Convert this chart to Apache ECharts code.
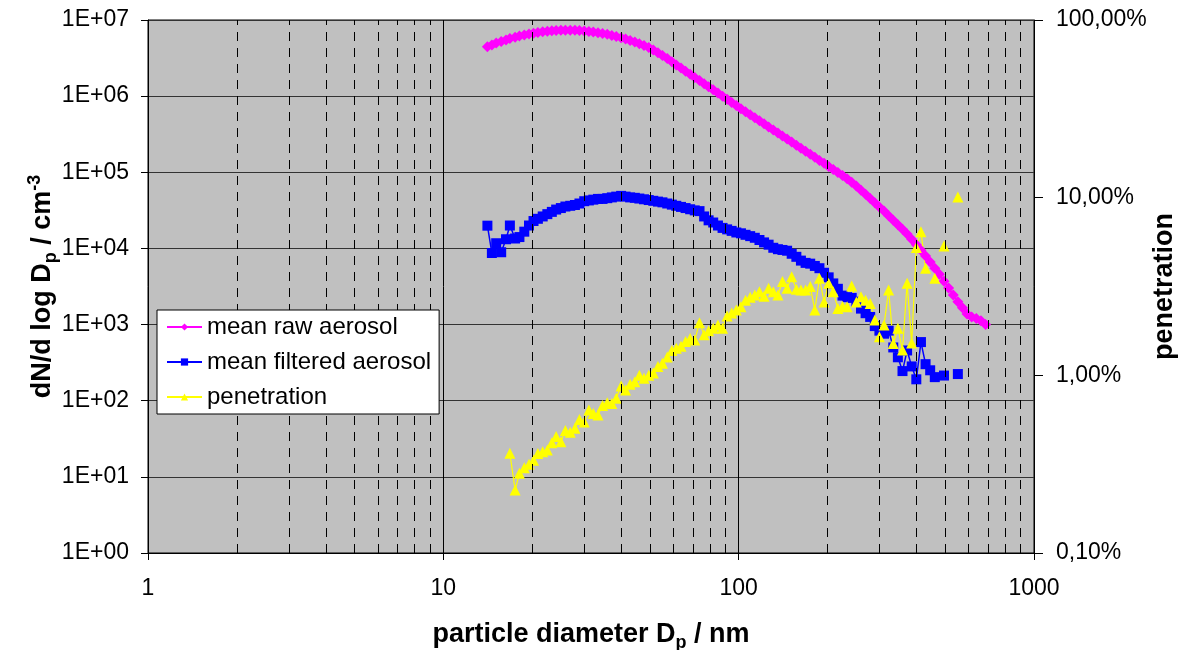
<!DOCTYPE html>
<html>
<head>
<meta charset="utf-8">
<script src="https://cdn.jsdelivr.net/npm/echarts@6/dist/echarts.min.js"></script>
<style>
  html, body { margin: 0; padding: 0; background: #fff; }
  #chart { width: 1190px; height: 650px; }
</style>
</head>
<body>
<div id="chart"></div>
<script>
// SMPS channel mid diameters / nm
var diameters = [
  14.1, 14.6, 15.1, 15.7, 16.3, 16.8, 17.5, 18.1, 18.8, 19.5,
  20.2, 20.9, 21.7, 22.5, 23.3, 24.1, 25.0, 25.9, 26.9, 27.9,
  28.9, 30.0, 31.1, 32.2, 33.4, 34.6, 35.9, 37.2, 38.5, 40.0,
  41.4, 42.9, 44.5, 46.1, 47.8, 49.6, 51.4, 53.3, 55.2, 57.3,
  59.4, 61.5, 63.8, 66.1, 68.5, 71.0, 73.7, 76.4, 79.1, 82.0,
  85.1, 88.2, 91.4, 94.7, 98.2, 101.8, 105.5, 109.4, 113.4, 117.6,
  121.9, 126.3, 131.0, 135.8, 140.7, 145.9, 151.2, 156.8, 162.5, 168.5,
  174.7, 181.1, 187.7, 194.6, 201.7, 209.1, 216.7, 224.7, 232.9, 241.4,
  250.3, 259.5, 269.0, 278.8, 289.0, 299.6, 310.6, 322.0, 333.8, 346.0,
  358.7, 371.8, 385.4, 399.5, 414.2, 429.4, 445.1, 461.4, 478.3, 495.8,
  514.0, 532.8, 552.3, 572.5, 593.5, 615.3, 637.8, 661.2, 685.4
];

// dN/dlogDp / cm^-3
var rawAerosol = [
  4.46e6, 4.71e6, 4.97e6, 5.22e6, 5.47e6, 5.70e6, 5.93e6, 6.15e6, 6.35e6, 6.55e6,
  6.71e6, 6.87e6, 7.00e6, 7.11e6, 7.21e6, 7.28e6, 7.33e6, 7.35e6, 7.35e6, 7.31e6,
  7.26e6, 7.18e6, 7.08e6, 6.97e6, 6.82e6, 6.67e6, 6.49e6, 6.28e6, 6.08e6, 5.86e6,
  5.62e6, 5.38e6, 5.14e6, 4.89e6, 4.62e6, 4.35e6, 4.03e6, 3.72e6, 3.41e6, 3.12e6,
  2.82e6, 2.57e6, 2.34e6, 2.13e6, 1.94e6, 1.76e6, 1.60e6, 1.46e6, 1.33e6, 1.21e6,
  1.10e6, 1.00e6, 9.10e5, 8.28e5, 7.53e5, 6.85e5, 6.25e5, 5.70e5, 5.20e5, 4.74e5,
  4.33e5, 3.94e5, 3.60e5, 3.28e5, 2.99e5, 2.73e5, 2.49e5, 2.27e5, 2.07e5, 1.89e5,
  1.72e5, 1.57e5, 1.43e5, 1.31e5, 1.19e5, 1.09e5, 9.91e4, 9.04e4, 8.24e4, 7.41e4,
  6.61e4, 5.82e4, 5.13e4, 4.52e4, 3.98e4, 3.51e4, 3.09e4, 2.69e4, 2.34e4, 2.04e4,
  1.78e4, 1.55e4, 1.32e4, 1.12e4, 9.44e3, 7.94e3, 6.61e3, 5.50e3, 4.57e3, 3.72e3,
  3.02e3, 2.45e3, 2.00e3, 1.66e3, 1.38e3, 1.26e3, 1.20e3, 1.12e3, 1.00e3
];

var filteredAerosol = [
  1.99e4, 8.71e3, 1.17e4, 8.91e3, 1.32e4, 2.00e4, 1.35e4, 1.41e4, 1.66e4, 2.00e4,
  2.29e4, 2.45e4, 2.63e4, 2.82e4, 3.02e4, 3.24e4, 3.39e4, 3.55e4, 3.63e4, 3.72e4,
  3.89e4, 4.17e4, 4.27e4, 4.37e4, 4.47e4, 4.47e4, 4.57e4, 4.68e4, 4.79e4, 4.90e4,
  4.79e4, 4.68e4, 4.62e4, 4.52e4, 4.42e4, 4.32e4, 4.22e4, 4.12e4, 4.03e4, 3.89e4,
  3.76e4, 3.63e4, 3.51e4, 3.39e4, 3.27e4, 3.16e4, 3.09e4, 2.63e4, 2.34e4, 2.19e4,
  2.00e4, 1.86e4, 1.78e4, 1.70e4, 1.62e4, 1.58e4, 1.51e4, 1.45e4, 1.38e4, 1.29e4,
  1.20e4, 1.12e4, 1.02e4, 9.77e3, 9.55e3, 9.33e3, 8.51e3, 7.76e3, 6.92e3, 6.46e3,
  6.31e3, 5.89e3, 5.50e3, 4.79e3, 4.17e3, 3.47e3, 2.95e3, 2.40e3, 2.29e3, 2.24e3,
  2.00e3, 1.62e3, 1.41e3, 1.26e3, 955, 832, 759, 832, 501, 372,
  245, 457, 282, 191, 589, 302, 251, 204, null, 214,
  null, null, 224, null, null, null, null, null, null
];

// penetration in %
var penetration = [
  null, null, null, null, null, 0.364, 0.226, 0.281, 0.302, 0.316,
  0.333, 0.363, 0.372, 0.380, 0.417, 0.452, 0.423, 0.490, 0.479, 0.504,
  0.565, 0.546, 0.638, 0.610, 0.598, 0.676, 0.701, 0.695, 0.743, 0.871,
  0.826, 0.891, 0.920, 1.00, 0.962, 1.00, 1.03, 1.12, 1.17, 1.27,
  1.38, 1.42, 1.46, 1.55, 1.61, 1.58, 1.98, 1.69, 1.78, 1.84,
  1.92, 1.84, 2.16, 2.24, 2.33, 2.43, 2.65, 2.75, 2.83, 2.95,
  2.79, 3.09, 2.95, 2.83, 3.37, 3.09, 3.59, 3.05, 3.02, 3.02,
  3.16, 2.33, 3.52, 2.59, 3.30, 2.95, 2.38, 2.45, 2.43, 3.18,
  2.59, 2.77, 2.65, 2.54, 2.05, 1.65, 1.92, 3.02, 1.51, 1.84,
  1.39, 3.30, 1.52, 5.25, 6.43, 4.00, null, 3.52, null, 5.35,
  null, null, 10.1, null, null, null, null, null, null
];

// dashed minor gridlines of the log x axis
var xMinorLines = [2, 3, 4, 5, 6, 7, 8, 9, 20, 30, 40, 50, 60, 70, 80, 90, 200, 300, 400, 500, 600, 700, 800, 900];

var FONT = '"Liberation Sans", Arial, sans-serif';

function pairs(ys) {
  return diameters.map(function (d, i) {
    return [d, ys[i] == null ? '-' : ys[i]];
  });
}

var myChart = echarts.init(document.getElementById('chart'));

var nameBold = { fontSize: 27, fontWeight: 'bold', fontFamily: FONT, color: '#000', lineHeight: 34 };
var nameSmall = { fontSize: 18, fontWeight: 'bold', fontFamily: FONT, color: '#000', lineHeight: 34 };

var option = {
  backgroundColor: '#fff',
  animation: false,
  textStyle: { fontFamily: FONT, color: '#000' },
  grid: {
    left: 148, right: 156, top: 20, bottom: 97,
    outerBoundsMode: 'none',
    containLabel: false,
    show: true, backgroundColor: '#C0C0C0', borderColor: '#000', borderWidth: 1
  },
  legend: {
    orient: 'vertical',
    left: 157, top: 310,
    z: 10,
    padding: [5, 8, 5, 9],
    itemGap: 11,
    itemWidth: 35, itemHeight: 9,
    backgroundColor: '#fff', borderColor: '#000', borderWidth: 1, borderRadius: 0,
    textStyle: { fontSize: 24, color: '#000', fontFamily: FONT },
    data: ['mean raw aerosol', 'mean filtered aerosol', 'penetration']
  },
  xAxis: {
    type: 'log', logBase: 10, min: 1, max: 1000, splitNumber: 3,
    name: '{b|particle diameter D}{s|p}{b| / nm}',
    nameLocation: 'middle', nameGap: 65, nameMoveOverlap: false,
    nameTextStyle: {
      rich: {
        b: nameBold,
        s: Object.assign({ verticalAlign: 'bottom' }, nameSmall)
      }
    },
    axisLine: { show: true, lineStyle: { color: '#000', width: 1 } },
    axisTick: { show: true, length: 7, lineStyle: { color: '#000' } },
    axisLabel: {
      fontSize: 23, color: '#000', margin: 24, fontFamily: FONT,
      formatter: function (v) { return String(v); }
    },
    splitLine: { show: true, lineStyle: { color: '#000', width: 1 } }
  },
  yAxis: [
    {
      type: 'log', logBase: 10, min: 1, max: 1e7, splitNumber: 7,
      name: '{b|dN/d log D}{s|p}{b| / cm}{t|-3}',
      nameLocation: 'middle', nameGap: 88, nameRotate: 90, nameMoveOverlap: false,
      nameTextStyle: {
        rich: {
          b: nameBold,
          s: Object.assign({ verticalAlign: 'bottom' }, nameSmall),
          t: Object.assign({ verticalAlign: 'top' }, nameSmall)
        }
      },
      axisLine: { show: true, lineStyle: { color: '#000', width: 1 } },
      axisTick: { show: true, length: 7, lineStyle: { color: '#000' } },
      axisLabel: {
        fontSize: 23, color: '#000', margin: 19, fontFamily: FONT,
        formatter: function (v) {
          var e = Math.round(Math.log10(v));
          return '1E+' + (e < 10 ? '0' : '') + e;
        }
      },
      splitLine: { show: true, lineStyle: { color: '#333', width: 1 } }
    },
    {
      type: 'log', logBase: 10, min: 0.1, max: 100, splitNumber: 3,
      position: 'right',
      name: 'penetration',
      nameLocation: 'middle', nameGap: 117, nameRotate: 90, nameMoveOverlap: false,
      nameTextStyle: { fontSize: 27, fontWeight: 'bold', color: '#000', fontFamily: FONT },
      axisLine: { show: true, lineStyle: { color: '#000', width: 1 } },
      axisTick: { show: true, length: 9, lineStyle: { color: '#000' } },
      axisLabel: {
        fontSize: 23, color: '#000', margin: 22, fontFamily: FONT,
        formatter: function (v) { return v.toFixed(2).replace('.', ',') + '%'; }
      },
      splitLine: { show: false }
    }
  ],
  series: [
    {
      name: 'minor grid',
      type: 'line',
      data: [],
      z: 1,
      silent: true,
      markLine: {
        silent: true,
        symbol: 'none',
        label: { show: false },
        animation: false,
        lineStyle: { color: '#000', width: 1, type: [9, 7] },
        data: xMinorLines.map(function (v) { return { xAxis: v }; })
      }
    },
    {
      name: 'mean raw aerosol',
      type: 'line',
      yAxisIndex: 0,
      data: pairs(rawAerosol),
      symbol: 'diamond', symbolSize: 11,
      itemStyle: { color: '#FF00FF' },
      lineStyle: { color: '#FF00FF', width: 2 },
      z: 2
    },
    {
      name: 'mean filtered aerosol',
      type: 'line',
      yAxisIndex: 0,
      data: pairs(filteredAerosol),
      symbol: 'rect', symbolSize: 10,
      itemStyle: { color: '#0000FF' },
      lineStyle: { color: '#0000FF', width: 1.5 },
      z: 2
    },
    {
      name: 'penetration',
      type: 'line',
      yAxisIndex: 1,
      data: pairs(penetration),
      symbol: 'triangle', symbolSize: 11,
      itemStyle: { color: '#FFFF00' },
      lineStyle: { color: '#FFFF00', width: 1.2 },
      z: 2
    }
  ]
};

myChart.setOption(option);

window.addEventListener('resize', function () {
  myChart.resize();
});
</script>
</body>
</html>
